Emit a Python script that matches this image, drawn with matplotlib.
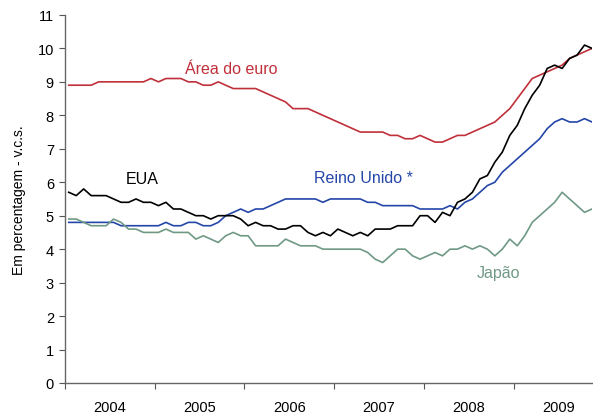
import matplotlib.pyplot as plt
import numpy as np

plt.rcParams['font.family'] = ['Liberation Sans', 'DejaVu Sans']

# monthly data, Jan 2004 - Nov 2009
start_year = 2004
n_months = 71

euro = [8.9, 8.9, 8.9, 8.9,
        9.0, 9.0, 9.0, 9.0, 9.0, 9.0, 9.0,
        9.1, 9.0, 9.1, 9.1, 9.1, 9.0, 9.0, 8.9, 8.9, 9.0, 8.9,
        8.8, 8.8, 8.8, 8.8,
        8.7, 8.6, 8.5, 8.4, 8.2, 8.2, 8.2,
        8.1, 8.0, 7.9, 7.8, 7.7, 7.6,
        7.5, 7.5, 7.5, 7.5, 7.4, 7.4, 7.3, 7.3, 7.4, 7.3, 7.2, 7.2,
        7.3, 7.4, 7.4, 7.5, 7.6, 7.7, 7.8, 8.0, 8.2, 8.5, 8.8, 9.1,
        9.2, 9.3, 9.4, 9.5, 9.7, 9.8, 9.9, 10.0]

eua = [5.7, 5.6, 5.8, 5.6, 5.6, 5.6, 5.5, 5.4, 5.4, 5.5, 5.4, 5.4,
       5.3, 5.4, 5.2, 5.2, 5.1, 5.0, 5.0, 4.9, 5.0, 5.0, 5.0, 4.9,
       4.7, 4.8, 4.7, 4.7, 4.6, 4.6, 4.7, 4.7, 4.5, 4.4, 4.5, 4.4,
       4.6, 4.5, 4.4, 4.5, 4.4, 4.6, 4.6, 4.6, 4.7, 4.7, 4.7, 5.0,
       5.0, 4.8, 5.1, 5.0, 5.4, 5.5, 5.7, 6.1, 6.2, 6.6, 6.9, 7.4,
       7.7, 8.2, 8.6, 8.9, 9.4, 9.5, 9.4, 9.7, 9.8, 10.1, 10.0]

uk = [4.8, 4.8, 4.8, 4.8, 4.8, 4.8, 4.8, 4.7, 4.7, 4.7, 4.7, 4.7,
      4.7, 4.8, 4.7, 4.7, 4.8, 4.8, 4.7, 4.7, 4.8, 5.0, 5.1, 5.2,
      5.1, 5.2, 5.2, 5.3, 5.4, 5.5, 5.5, 5.5, 5.5, 5.5, 5.4, 5.5,
      5.5, 5.5, 5.5, 5.5, 5.4, 5.4, 5.3, 5.3, 5.3, 5.3, 5.3, 5.2,
      5.2, 5.2, 5.2, 5.3, 5.2, 5.4, 5.5, 5.7, 5.9, 6.0, 6.3, 6.5,
      6.7, 6.9, 7.1, 7.3, 7.6, 7.8, 7.9, 7.8, 7.8, 7.9, 7.8]

japao = [4.9, 4.9, 4.8, 4.7, 4.7, 4.7, 4.9, 4.8, 4.6, 4.6, 4.5, 4.5,
         4.5, 4.6, 4.5, 4.5, 4.5, 4.3, 4.4, 4.3, 4.2, 4.4, 4.5, 4.4,
         4.4, 4.1, 4.1, 4.1, 4.1, 4.3, 4.2, 4.1, 4.1, 4.1, 4.0, 4.0,
         4.0, 4.0, 4.0, 4.0, 3.9, 3.7, 3.6, 3.8, 4.0, 4.0, 3.8, 3.7,
         3.8, 3.9, 3.8, 4.0, 4.0, 4.1, 4.0, 4.1, 4.0, 3.8, 4.0, 4.3,
         4.1, 4.4, 4.8, 5.0, 5.2, 5.4, 5.7, 5.5, 5.3, 5.1, 5.2]

years = [2004, 2005, 2006, 2007, 2008, 2009]

x = start_year + (np.arange(n_months) + 0.5) / 12

red = '#C0303A'
blue = '#2446A8'
green = '#6F9985'

fig = plt.figure(figsize=(5.93, 4.14), dpi=100)
ax = fig.add_axes([0.1096, 0.0725, 0.889, 0.889])

ax.plot(x, euro, color=red, lw=1.2)
ax.plot(x, uk, color=blue, lw=1.2)
ax.plot(x, japao, color=green, lw=1.2)
ax.plot(x, eua, color='black', lw=1.2)

ax.set_xlim(start_year, start_year + n_months / 12 - 0.04)
ax.set_ylim(0, 11)
ax.set_yticks(range(0, 12))

ax.set_xticks(years)
ax.set_xticklabels([])
ax.set_xticks([y + 0.5 for y in years], minor=True)
ax.set_xticklabels([str(y) for y in years], minor=True)
ax.tick_params(axis='x', which='minor', length=0, pad=12, labelsize=10.5)
ax.tick_params(axis='x', which='major', length=4, direction='out', color='#555555')
ax.tick_params(axis='y', length=4, direction='out', color='#555555', labelsize=10.5, pad=4)

for s in ['top', 'right']:
    ax.spines[s].set_visible(False)
for s in ['left', 'bottom']:
    ax.spines[s].set_color('#666666')
    ax.spines[s].set_linewidth(1.0)

ax.set_ylabel('Em percentagem - v.c.s.', fontsize=10, labelpad=8)

ax.text(2005.34, 9.39, 'Área do euro', color=red, fontsize=11.5, va='center')
ax.text(2004.68, 6.1, 'EUA', color='black', fontsize=11.5, va='center')
ax.text(2006.78, 6.15, 'Reino Unido *', color=blue, fontsize=11.5, va='center')
ax.text(2008.59, 3.3, 'Japão', color=green, fontsize=11.5, va='center')

fig.savefig('out.png', dpi=100)
